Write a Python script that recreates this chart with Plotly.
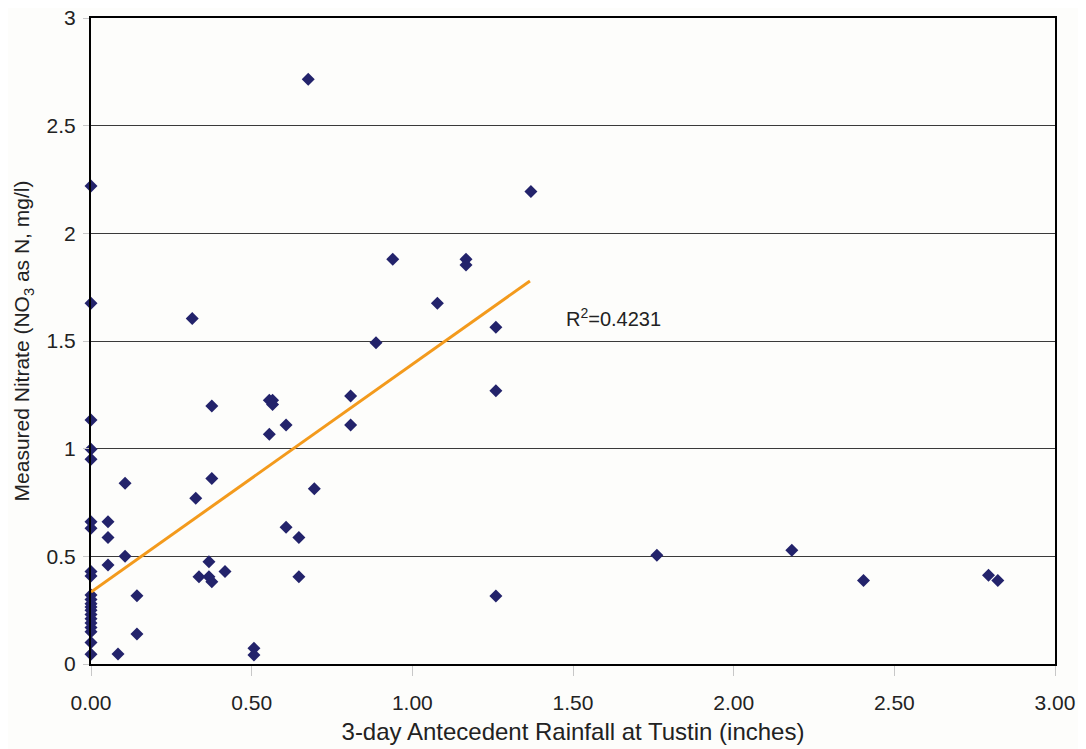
import plotly.graph_objects as go

# Scatter data: 3-day antecedent rainfall (inches) vs measured nitrate (mg/l)
rain = [
    0, 0, 0, 0, 0, 0, 0, 0, 0,
    0, 0, 0, 0, 0, 0, 0, 0, 0, 0, 0, 0,
    0.053, 0.053, 0.053, 0.084, 0.106, 0.106, 0.143, 0.143,
    0.315, 0.326, 0.336, 0.367, 0.367, 0.376, 0.376, 0.376, 0.417,
    0.507, 0.507, 0.555, 0.555, 0.565, 0.565, 0.607, 0.607, 0.647, 0.647,
    0.676, 0.695, 0.808, 0.808, 0.887, 0.939, 1.078, 1.167, 1.167,
    1.260, 1.260, 1.260, 1.369,
    1.761, 2.181, 2.404, 2.793, 2.822,
]
nitrate = [
    2.22, 1.675, 1.133, 0.997, 0.951, 0.661, 0.630, 0.429, 0.409,
    0.32, 0.30, 0.28, 0.265, 0.25, 0.23, 0.21, 0.19, 0.17, 0.15, 0.10, 0.045,
    0.661, 0.588, 0.46, 0.046, 0.839, 0.50, 0.317, 0.139,
    1.605, 0.770, 0.405, 0.475, 0.405, 1.198, 0.861, 0.382, 0.429,
    0.073, 0.042, 1.225, 1.067, 1.225, 1.205, 1.110, 0.635, 0.588, 0.405,
    2.716, 0.814, 1.245, 1.110, 1.492, 1.880, 1.675, 1.880, 1.853,
    1.564, 1.269, 0.316, 2.194,
    0.505, 0.528, 0.388, 0.412, 0.388,
]

# Trend line end points (as drawn)
trend_x = [0.0, 1.366]
trend_y = [0.334, 1.779]
r2_text = "R<sup>2</sup>=0.4231"

x_ticks = [0, 0.5, 1.0, 1.5, 2.0, 2.5, 3.0]
x_tick_labels = ["0.00", "0.50", "1.00", "1.50", "2.00", "2.50", "3.00"]
y_ticks = [0, 0.5, 1, 1.5, 2, 2.5, 3]
y_tick_labels = ["0", "0.5", "1", "1.5", "2", "2.5", "3"]

fig = go.Figure()
fig.add_trace(go.Scatter(
    x=rain, y=nitrate, mode="markers",
    marker=dict(symbol="diamond", size=10, color="#23236b"),
    cliponaxis=False, showlegend=False,
))
fig.add_trace(go.Scatter(
    x=trend_x, y=trend_y, mode="lines",
    line=dict(color="#f39a1c", width=3),
    showlegend=False,
))
fig.add_annotation(
    x=1.625, y=1.607, text=r2_text, showarrow=False,
    font=dict(family="Liberation Sans, Arial", size=20, color="#222"),
)

tick_font = dict(family="Liberation Sans, Arial", size=21, color="#222")
xtitle_font = dict(family="Liberation Sans, Arial", size=24, color="#222")
ytitle_font = dict(family="Liberation Sans, Arial", size=21, color="#222")

# The page body has an 8px default margin, so the figure is sized and
# offset to place the plot area where the reference has it.
fig.update_layout(
    width=1078, height=741,
    margin=dict(l=83, r=31, t=10, b=85, autoexpand=False),
    paper_bgcolor="#fdfdfb", plot_bgcolor="#fdfdfb",
    font=tick_font,
    xaxis=dict(
        range=[0, 3], tickvals=x_ticks, ticktext=x_tick_labels,
        showgrid=False, zeroline=False, automargin=False,
        showline=True, linecolor="black", linewidth=2, mirror=True,
        ticks="outside", ticklen=10, tickcolor="#c8c8c8",
        ticklabelstandoff=9, ticklabeloverflow="allow",
        title=dict(text="3-day Antecedent Rainfall at Tustin (inches)",
                   standoff=10, font=xtitle_font),
        tickfont=tick_font,
    ),
    yaxis=dict(
        range=[0, 3], tickvals=y_ticks, ticktext=y_tick_labels,
        showgrid=True, gridcolor="#3a3a3a", gridwidth=1, zeroline=False,
        automargin=False,
        showline=True, linecolor="black", linewidth=2, mirror=True,
        ticks="outside", ticklen=6, tickcolor="#c8c8c8",
        ticklabelstandoff=3, ticklabeloverflow="allow",
        title=dict(text="Measured Nitrate (NO<sub>3</sub> as N, mg/l)",
                   standoff=11, font=ytitle_font),
        tickfont=tick_font,
    ),
)

fig.write_html("out.html")
